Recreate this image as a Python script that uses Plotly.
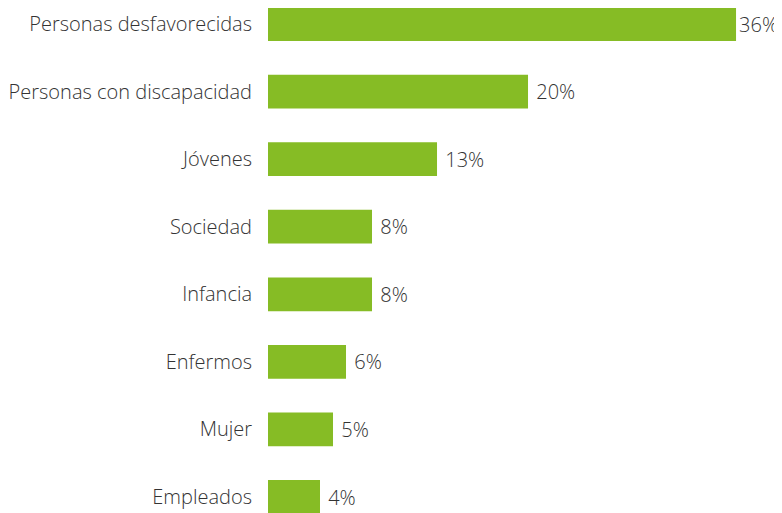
import plotly.graph_objects as go

categories = ["Empleados", "Mujer", "Enfermos", "Infancia", "Sociedad", "Jóvenes",
              "Personas con discapacidad", "Personas desfavorecidas"]
values = [4, 5, 6, 8, 8, 13, 20, 36]
labels = [f"{v}%" if v == max(values) else f" {v}%" for v in values]

green = "#86bc25"
fnt = dict(family="Open Sans", size=20, color="#333333", weight=300)

fig = go.Figure(go.Bar(
    y=categories, x=values, orientation="h",
    marker=dict(color=green, line=dict(width=0)),
    text=labels, textposition="outside", cliponaxis=False,
    textfont=fnt, width=0.5,
))
fig.update_layout(
    width=782, height=513,
    margin=dict(l=260, r=0, t=0, b=0),
    plot_bgcolor="white", paper_bgcolor="white",
    showlegend=False,
    font=fnt,
    xaxis=dict(range=[0, 40.15], visible=False, showgrid=False, zeroline=False),
    yaxis=dict(range=[-0.355, 7.237], showgrid=False, zeroline=False, showline=False,
               ticks="", tickfont=fnt, ticklabelstandoff=15),
)
fig.write_html("out.html")
